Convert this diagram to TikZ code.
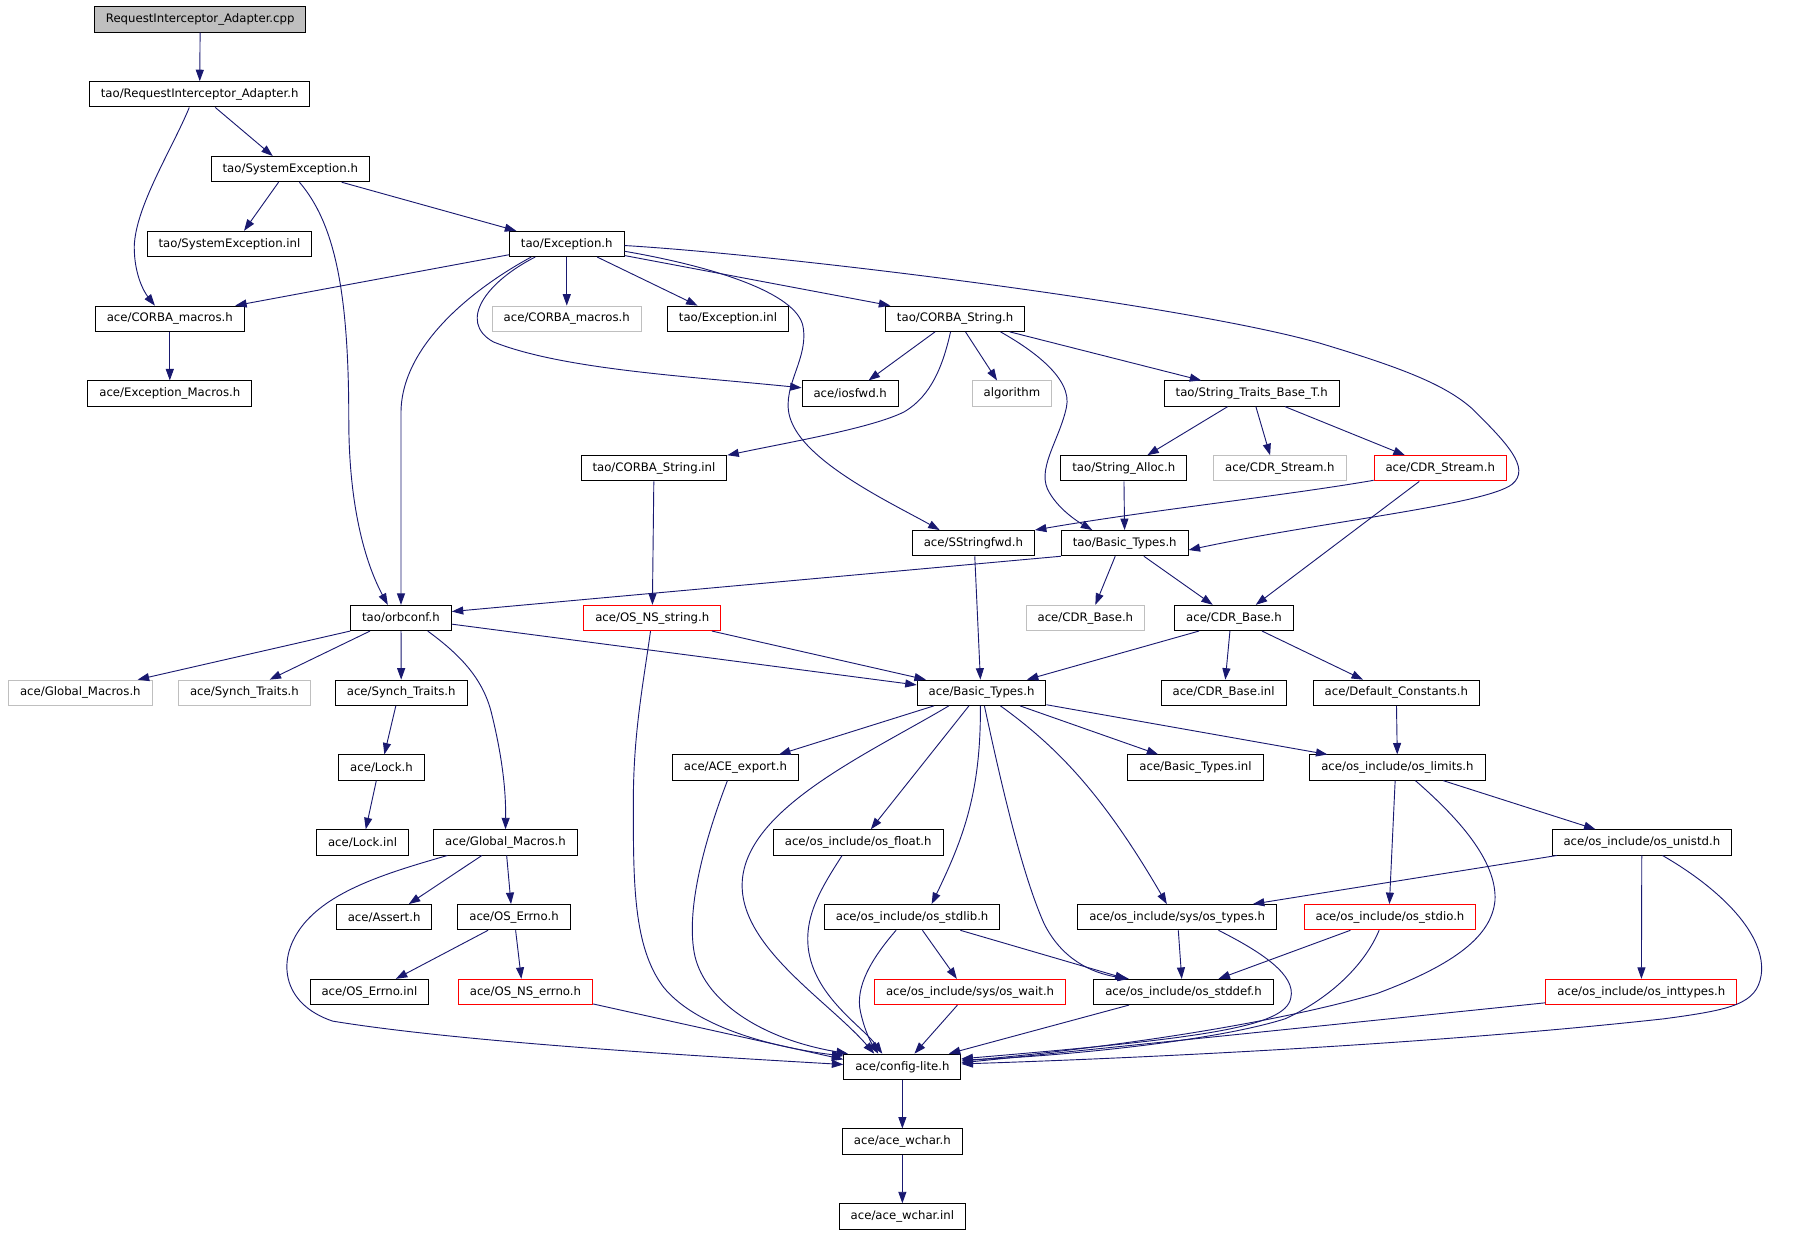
\documentclass[tikz,border=0pt]{standalone}
\usepackage{fontspec}
\setmainfont{DejaVu Sans}
\usetikzlibrary{arrows.meta}
\definecolor{edgecol}{RGB}{25,25,112}
\definecolor{graybd}{RGB}{191,191,191}
\tikzset{
  box/.style={draw=black, line width=0.85pt, fill=white, minimum height=22pt,
    inner xsep=10pt, inner ysep=0pt, font=\fontsize{10.2}{12}\selectfont},
  graybox/.style={box, draw=graybd},
  redbox/.style={box, draw=red},
  rootbox/.style={box, fill=graybd},
  edge/.style={draw=edgecol, line width=0.8pt, -{Triangle[length=10pt,width=7pt]}}
}
\begin{document}
\begin{tikzpicture}[x=1pt,y=-1pt]
\useasboundingbox (0,0) rectangle (1568,1074);
\node[rootbox] (cpp) at (174.5,17) {RequestInterceptor\_Adapter.cpp};
\node[box] (ria) at (174,82.2) {tao/RequestInterceptor\_Adapter.h};
\node[box] (sysexc) at (253,147.4) {tao/SystemException.h};
\node[box] (sysinl) at (200,212.6) {tao/SystemException.inl};
\node[box] (exch) at (494,212.6) {tao/Exception.h};
\node[box] (cmb) at (148,277.8) {ace/CORBA\_macros.h};
\node[graybox] (cmg) at (494,277.8) {ace/CORBA\_macros.h};
\node[box] (excinl) at (634.5,277.8) {tao/Exception.inl};
\node[box] (cstr) at (832.5,277.8) {tao/CORBA\_String.h};
\node[box] (excmac) at (148,343) {ace/Exception\_Macros.h};
\node[box] (iosfwd) at (741,343) {ace/iosfwd.h};
\node[graybox] (algo) at (882,343) {algorithm};
\node[box] (stbt) at (1091,343) {tao/String\_Traits\_Base\_T.h};
\node[box] (cstrinl) at (570,408.2) {tao/CORBA\_String.inl};
\node[box] (salloc) at (979.5,408.2) {tao/String\_Alloc.h};
\node[graybox] (cdrsg) at (1115.5,408.2) {ace/CDR\_Stream.h};
\node[redbox] (cdrsr) at (1255.3,408.2) {ace/CDR\_Stream.h};
\node[box] (sfwd) at (848.4,473.4) {ace/SStringfwd.h};
\node[box] (tbt) at (980.3,473.4) {tao/Basic\_Types.h};
\node[box] (orbc) at (349.5,538.6) {tao/orbconf.h};
\node[redbox] (osnss) at (568.5,538.6) {ace/OS\_NS\_string.h};
\node[graybox] (cdrbg) at (946,538.6) {ace/CDR\_Base.h};
\node[box] (cdrbb) at (1075.5,538.6) {ace/CDR\_Base.h};
\node[graybox] (gmg) at (70,603.8) {ace/Global\_Macros.h};
\node[graybox] (stg) at (213,603.8) {ace/Synch\_Traits.h};
\node[box] (stb) at (349.7,603.8) {ace/Synch\_Traits.h};
\node[box] (abt) at (855.5,603.8) {ace/Basic\_Types.h};
\node[box] (cdrbinl) at (1066.5,603.8) {ace/CDR\_Base.inl};
\node[box] (defc) at (1217,603.8) {ace/Default\_Constants.h};
\node[box] (lockh) at (332.5,669) {ace/Lock.h};
\node[box] (acex) at (641,669) {ace/ACE\_export.h};
\node[box] (btinl) at (1042,669) {ace/Basic\_Types.inl};
\node[box] (limits) at (1218,669) {ace/os\_include/os\_limits.h};
\node[box] (lockinl) at (316,734.2) {ace/Lock.inl};
\node[box] (gmb) at (440.6,734.2) {ace/Global\_Macros.h};
\node[box] (osfloat) at (748,734.2) {ace/os\_include/os\_float.h};
\node[box] (unistd) at (1431,734.2) {ace/os\_include/os\_unistd.h};
\node[box] (assert) at (334.8,799.4) {ace/Assert.h};
\node[box] (errnoh) at (448,799.4) {ace/OS\_Errno.h};
\node[box] (stdlib) at (795,799.4) {ace/os\_include/os\_stdlib.h};
\node[box] (ostypes) at (1026,799.4) {ace/os\_include/sys/os\_types.h};
\node[redbox] (stdio) at (1211.5,799.4) {ace/os\_include/os\_stdio.h};
\node[box] (errnoinl) at (322,864.6) {ace/OS\_Errno.inl};
\node[redbox] (nserrno) at (458,864.6) {ace/OS\_NS\_errno.h};
\node[redbox] (oswait) at (845.5,864.6) {ace/os\_include/sys/os\_wait.h};
\node[box] (stddef) at (1031.5,864.6) {ace/os\_include/os\_stddef.h};
\node[redbox] (inttypes) at (1430.6,864.6) {ace/os\_include/os\_inttypes.h};
\node[box] (cfg) at (786.5,929.8) {ace/config-lite.h};
\node[box] (wchar) at (786.5,995) {ace/ace\_wchar.h};
\node[box] (wcharinl) at (786.5,1060.2) {ace/ace\_wchar.inl};

\draw[edge] (cpp) -- (ria);
\draw[edge] ([xshift=13.6pt]ria.south) -- ([xshift=-15.3pt]sysexc.north);
\draw[edge] ([xshift=-9pt]ria.south) .. controls (150,130) and (118,180) .. (117,215) .. controls (117,240) and (126,255) .. ([xshift=-13pt]cmb.north);
\draw[edge] ([xshift=-10.2pt]sysexc.south) -- ([xshift=12.7pt]sysinl.north);
\draw[edge] ([xshift=44.8pt]sysexc.south) -- ([xshift=-44pt]exch.north);
\draw[edge] ([xshift=8pt]sysexc.south) .. controls (292,195) and (304,255) .. (304,366) .. controls (304,440) and (318,490) .. ([xshift=-11.5pt]orbc.north);
\draw[edge] (cmb) -- (excmac);
\draw[edge] ([yshift=2pt]exch.south west) -- ([xshift=57pt]cmb.north);
\draw[edge] ([xshift=-31pt]exch.south) .. controls (415,250) and (349.5,300) .. (349.5,360) -- (orbc.north);
\draw[edge] ([xshift=-27.5pt]exch.south) .. controls (425,245) and (398,280) .. (430,298) .. controls (490,322) and (600,328) .. ([yshift=5pt]iosfwd.west);
\draw[edge] (exch) -- (cmg);
\draw[edge] ([xshift=26.5pt]exch.south) -- ([xshift=-26.5pt]excinl.north);
\draw[edge] ([yshift=1.3pt]exch.south east) -- ([xshift=-56.5pt]cstr.north);
\draw[edge] ([yshift=-6.4pt]exch.east) .. controls (620,232) and (695,255) .. (700,285) .. controls (705,315) and (678,340) .. (690,368) .. controls (705,405) and (780,440) .. ([xshift=-29.4pt]sfwd.north);
\draw[edge] ([yshift=-1.4pt]exch.east) .. controls (680,222) and (1030,265) .. (1150,299) .. controls (1220,320) and (1260,335) .. (1284,357) .. controls (1312,385) and (1335,408) .. (1318,422) .. controls (1295,440) and (1150,455) .. ([yshift=-6pt]tbt.east);
\draw[edge] ([xshift=-17.5pt]cstr.south) -- ([xshift=16pt]iosfwd.north);
\draw[edge] ([xshift=-4pt]cstr.south) .. controls (822,318) and (812,345) .. (788,359) .. controls (760,373) and (690,385) .. (cstrinl.north east);
\draw[edge] ([xshift=9pt]cstr.south) -- ([xshift=-13pt]algo.north);
\draw[edge] ([xshift=39.5pt]cstr.south) .. controls (900,305) and (935,330) .. (929.5,355) .. controls (923,385) and (902,410) .. (915,430) .. controls (924,445) and (940,455) .. ([xshift=-28.3pt]tbt.north);
\draw[edge] ([xshift=47.5pt]cstr.south) -- ([xshift=-44pt]stbt.north);
\draw[edge] ([xshift=-21pt]stbt.south) -- ([xshift=20.5pt]salloc.north);
\draw[edge] ([xshift=3.6pt]stbt.south) -- ([xshift=-8.5pt]cdrsg.north);
\draw[edge] ([xshift=29pt]stbt.south) -- ([xshift=-30.8pt]cdrsr.north);
\draw[edge] (salloc) -- (tbt);
\draw[edge] ([yshift=1pt]cdrsr.south west) .. controls (1120,432) and (1000,445) .. (sfwd.north east);
\draw[edge] ([xshift=-18.3pt]cdrsr.south) -- ([xshift=19pt]cdrbb.north);
\draw[edge] ([xshift=1.2pt]sfwd.south) -- ([xshift=-1pt]abt.north);
\draw[edge] (tbt.south west) -- ([yshift=5.6pt]orbc.east);
\draw[edge] ([xshift=-8.3pt]tbt.south) -- ([xshift=8.7pt]cdrbg.north);
\draw[edge] ([xshift=16.7pt]tbt.south) -- ([xshift=-18.5pt]cdrbb.north);
\draw[edge] (cstrinl) -- (osnss);
\draw[edge] (orbc.south west) -- ([xshift=50pt]gmg.north);
\draw[edge] ([xshift=-27pt]orbc.south) -- ([xshift=22pt]stg.north);
\draw[edge] (orbc) -- (stb);
\draw[edge] ([xshift=23.3pt]orbc.south) .. controls (400,570) and (420,590) .. (428,620) .. controls (438,660) and (441,690) .. (gmb.north);
\draw[edge] ([yshift=-5.4pt]orbc.east) -- ([yshift=6.8pt]abt.west);
\draw[edge] ([xshift=52pt]osnss.south) -- ([xshift=8pt]abt.north west);
\draw[edge] ([xshift=-1.5pt]osnss.south) .. controls (560,600) and (552,640) .. (552,700) .. controls (552,770) and (552,825) .. (578,860) .. controls (610,900) and (690,915) .. ([yshift=-2pt]cfg.north west);
\draw[edge] ([xshift=-30.5pt]cdrbb.south) -- ([xshift=39.5pt]abt.north);
\draw[edge] ([xshift=-3.5pt]cdrbb.south) -- ([xshift=1.5pt]cdrbinl.north);
\draw[edge] ([xshift=24.5pt]cdrbb.south) -- ([xshift=-29pt]defc.north);
\draw[edge] ([xshift=-4.7pt]stb.south) -- ([xshift=2.5pt]lockh.north);
\draw[edge] ([xshift=-4.5pt]lockh.south) -- ([xshift=2.8pt]lockinl.north);
\draw[edge] ([xshift=-41.5pt]abt.south) -- ([xshift=38pt]acex.north);
\draw[edge] ([xshift=-28.5pt]abt.south) .. controls (760,655) and (660,700) .. (648,760) .. controls (636,820) and (720,870) .. ([xshift=-24.5pt]cfg.north);
\draw[edge] ([xshift=-11pt]abt.south) -- ([xshift=11pt]osfloat.north);
\draw[edge] ([xshift=-1pt]abt.south) .. controls (855,690) and (840,730) .. ([xshift=17pt]stdlib.north);
\draw[edge] ([xshift=2.5pt]abt.south) .. controls (872,680) and (890,760) .. (910,805) .. controls (925,835) and (950,848) .. ([xshift=-47.5pt]stddef.north);
\draw[edge] ([xshift=16.5pt]abt.south) .. controls (920,650) and (960,690) .. ([xshift=-9pt]ostypes.north);
\draw[edge] ([xshift=33.5pt]abt.south) -- ([xshift=-32.5pt]btinl.north);
\draw[edge] ([yshift=1pt]abt.south east) -- ([xshift=-61pt]limits.north);
\draw[edge] (defc) -- (limits);
\draw[edge] ([xshift=40pt]limits.south) -- ([xshift=-40.4pt]unistd.north);
\draw[edge] ([xshift=-2pt]limits.south) -- ([xshift=-0.5pt]stdio.north);
\draw[edge] ([xshift=15.7pt]limits.south) .. controls (1270,712) and (1305,750) .. (1303,785) .. controls (1300,815) and (1270,840) .. (1200,866) .. controls (1100,895) and (950,915) .. ([yshift=5pt]cfg.east);
\draw[edge] ([xshift=-7pt]acex.south) .. controls (615,730) and (598,790) .. (605,830) .. controls (612,870) and (660,905) .. ([xshift=4pt]cfg.north west);
\draw[edge] ([xshift=-20.6pt]gmb.south) -- ([xshift=21.5pt]assert.north);
\draw[edge] ([xshift=1pt]gmb.south) -- ([xshift=-2.6pt]errnoh.north);
\draw[edge] ([xshift=-50.6pt]gmb.south) .. controls (340,760) and (290,775) .. (265,805) .. controls (240,835) and (245,875) .. (290,890) .. controls (400,908) and (600,920) .. ([yshift=2pt]cfg.west);
\draw[edge] ([xshift=-14pt]osfloat.south) .. controls (715,775) and (700,800) .. (705,830) .. controls (712,870) and (752,895) .. ([xshift=-17.5pt]cfg.north);
\draw[edge] ([xshift=-74pt]unistd.south) -- ([xshift=66pt]ostypes.north);
\draw[edge] (unistd) -- (inttypes);
\draw[edge] ([xshift=18pt]unistd.south) .. controls (1500,775) and (1540,815) .. (1535,850) .. controls (1531,875) and (1510,880) .. (1450,888) .. controls (1250,910) and (1000,922) .. ([yshift=2.5pt]cfg.east);
\draw[edge] ([yshift=2pt]inttypes.south west) -- ([yshift=3.5pt]cfg.east);
\draw[edge] ([xshift=-9.5pt]stdio.south) .. controls (1190,840) and (1160,870) .. (1120,888) .. controls (1050,910) and (900,922) .. ([yshift=6pt]cfg.east);
\draw[edge] ([xshift=-34.5pt]stdio.south) -- ([xshift=30.5pt]stddef.north);
\draw[edge] ([xshift=1pt]ostypes.south) -- ([xshift=-1.5pt]stddef.north);
\draw[edge] ([xshift=36pt]ostypes.south) .. controls (1100,830) and (1130,850) .. (1125,870) .. controls (1120,895) and (1050,905) .. ([yshift=7pt]cfg.east);
\draw[edge] ([xshift=9pt]stdlib.south) -- ([xshift=-11.5pt]oswait.north);
\draw[edge] ([xshift=42pt]stdlib.south) -- ([xshift=-49.5pt]stddef.north);
\draw[edge] ([xshift=-14pt]stdlib.south) .. controls (760,835) and (745,860) .. (750,882) .. controls (754,900) and (760,910) .. ([xshift=-21pt]cfg.north);
\draw[edge] ([xshift=-22.6pt]errnoh.south) -- ([xshift=23pt]errnoinl.north);
\draw[edge] ([xshift=1.4pt]errnoh.south) -- ([xshift=-3.6pt]nserrno.north);
\draw[edge] ([yshift=1pt]nserrno.south east) -- ([yshift=-5pt]cfg.north west);
\draw[edge] ([xshift=-11pt]oswait.south) -- ([xshift=10.5pt]cfg.north);
\draw[edge] ([xshift=-47.5pt]stddef.south) -- ([xshift=40.5pt]cfg.north);
\draw[edge] (cfg) -- (wchar);
\draw[edge] (wchar) -- (wcharinl);
\end{tikzpicture}
\end{document}
